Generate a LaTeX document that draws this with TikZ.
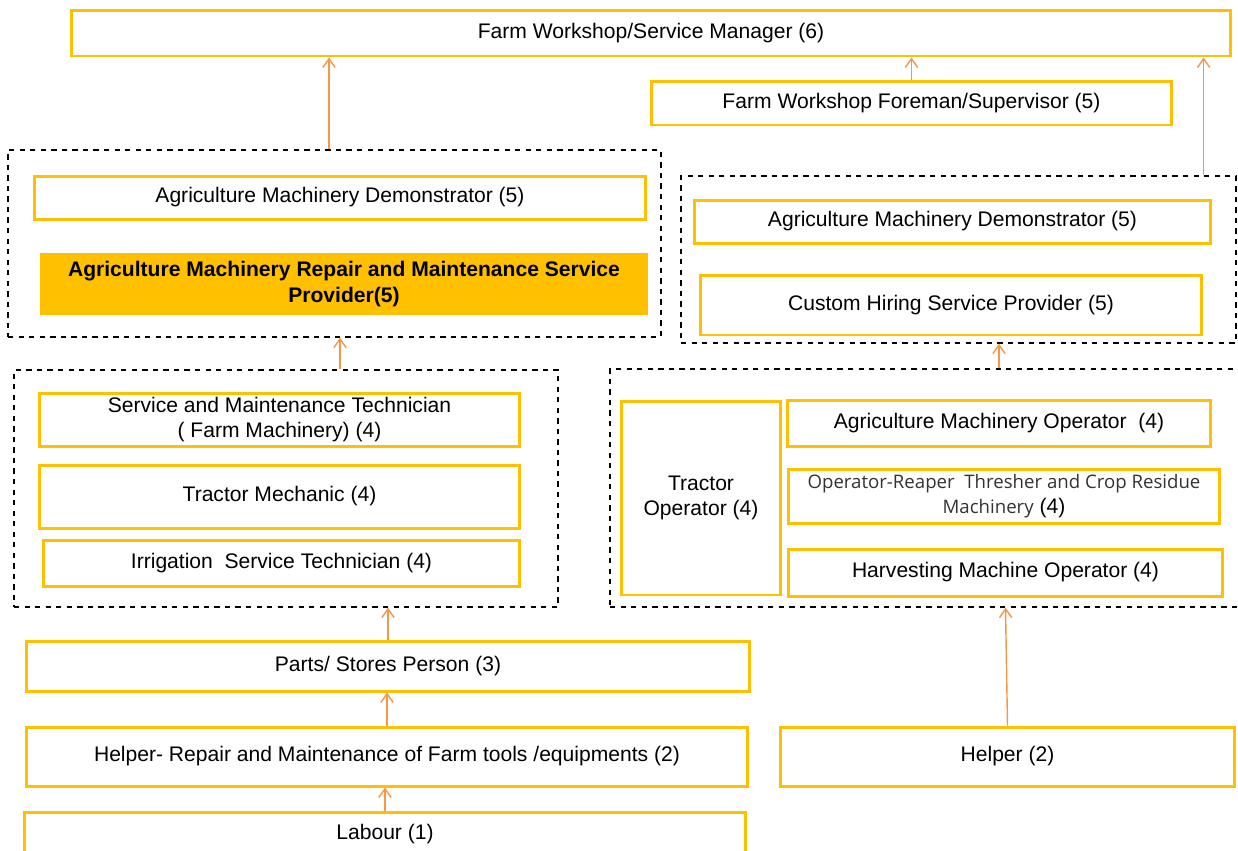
\documentclass[tikz,border=0pt]{standalone}
\usepackage{fontspec}
\setmainfont{Liberation Sans}
\newfontfamily\osans{Open Sans}
\usetikzlibrary{arrows.meta}
\definecolor{gold}{HTML}{FFC000}
\definecolor{tang}{HTML}{F79646}

\begin{document}
\begin{tikzpicture}[x=0.02cm, y=-0.02cm,
    box/.style={draw=gold, line width=1.7pt, fill=white, align=center, inner sep=2pt,
      font=\fontsize{12}{14.5}\selectfont},
    grp/.style={draw=black, dashed, line width=0.75pt, inner sep=0pt},
    up/.style={draw=tang, line width=0.8pt, -{Straight Barb[length=5pt, width=7pt]}}]
      \useasboundingbox (0,0) rectangle (1238,850);
      \node[grp, minimum width=13.06cm, minimum height=3.74cm] (grpA) at (334.5,243.5) {};
      \node[grp, minimum width=11.1cm, minimum height=3.34cm] (grpB) at (958.5,259.5) {};
      \node[grp, minimum width=10.88cm, minimum height=4.74cm] (grpC) at (286,488.5) {};
      \node[grp, minimum width=12.6cm, minimum height=4.76cm] (grpD) at (925,488) {};
      \node[box, minimum width=23.2cm, minimum height=0.92cm] (mgr) at (651,33) {Farm Workshop/Service Manager (6)};
      \node[box, minimum width=10.42cm, minimum height=0.88cm] (frm) at (911.5,103) {Farm Workshop Foreman/Supervisor (5)};
      \node[box, minimum width=12.24cm, minimum height=0.86cm] (demoL) at (340,197.5) {Agriculture Machinery Demonstrator (5)};
      \node[box, draw=none, fill=gold, minimum width=12.16cm, minimum height=1.24cm, font=\fontsize{12}{14.5}\selectfont\bfseries] (repair) at (344,284) {Agriculture Machinery Repair and Maintenance Service\\Provider(5)};
      \node[box, minimum width=10.34cm, minimum height=0.86cm] (demoR) at (952.5,221.5) {Agriculture Machinery Demonstrator (5)};
      \node[box, minimum width=10.04cm, minimum height=1.2cm] (hire) at (951,305) {Custom Hiring Service Provider (5)};
      \node[box, minimum width=9.62cm, minimum height=1.06cm] (smt) at (279.5,419.5) {Service and Maintenance Technician\\( Farm Machinery) (4)};
      \node[box, minimum width=9.62cm, minimum height=1.26cm] (mech) at (279.5,496.5) {Tractor Mechanic (4)};
      \node[box, minimum width=9.54cm, minimum height=0.92cm] (irr) at (281.5,563) {Irrigation\ \ Service Technician (4)};
      \node[box, minimum width=3.2cm, minimum height=3.88cm] (trop) at (701,498) {Tractor\\Operator (4)};
      \node[box, minimum width=8.48cm, minimum height=0.92cm] (amo) at (999,423) {Agriculture Machinery Operator\ \ (4)};
      \node[box, minimum width=8.64cm, minimum height=1.08cm] (reaper) at (1004,496) {{\osans\fontsize{10.6}{14.5}\selectfont\color{black!80}Operator-Reaper\ \ Thresher and Crop Residue}\\{\osans\fontsize{10.6}{14.5}\selectfont\color{black!80}Machinery} (4)};
      \node[box, minimum width=8.7cm, minimum height=0.94cm] (harv) at (1005.5,572.5) {Harvesting Machine Operator (4)};
      \node[box, minimum width=14.48cm, minimum height=1cm] (parts) at (388,666) {Parts/ Stores Person (3)};
      \node[box, minimum width=14.44cm, minimum height=1.18cm] (helpL) at (387,756.5) {Helper- Repair and Maintenance of Farm tools /equipments (2)};
      \node[box, minimum width=9.1cm, minimum height=1.18cm] (helpR) at (1007.5,756.5) {Helper (2)};
      \node[box, minimum width=14.44cm, minimum height=0.88cm] (labour) at (385,834) {Labour (1)};
      \draw[up] ([xshift=-0.11cm]grpA.north) -- ([xshift=-0.11cm]grpA.north |- mgr.south);
      \draw[up] (frm.north) -- (frm.north |- mgr.south);
      \draw[up] ([xshift=-0.66cm]grpB.north east) -- ([xshift=-0.66cm]grpB.north east |- mgr.south);
      \draw[up] ([xshift=0.11cm]grpA.south |- grpC.north) -- ([xshift=0.11cm]grpA.south);
      \draw[up] (amo.center |- grpD.north) -- (amo.center |- grpB.south);
      \draw[up] (parts.north) -- (parts.north |- grpC.south);
      \draw[up] (helpL.north) -- (helpL.north |- parts.south);
      \draw[up] (labour.north) -- (labour.north |- helpL.south);
      \draw[up] (helpR.north) -- (harv.center |- grpD.south);
\end{tikzpicture}
\end{document}
